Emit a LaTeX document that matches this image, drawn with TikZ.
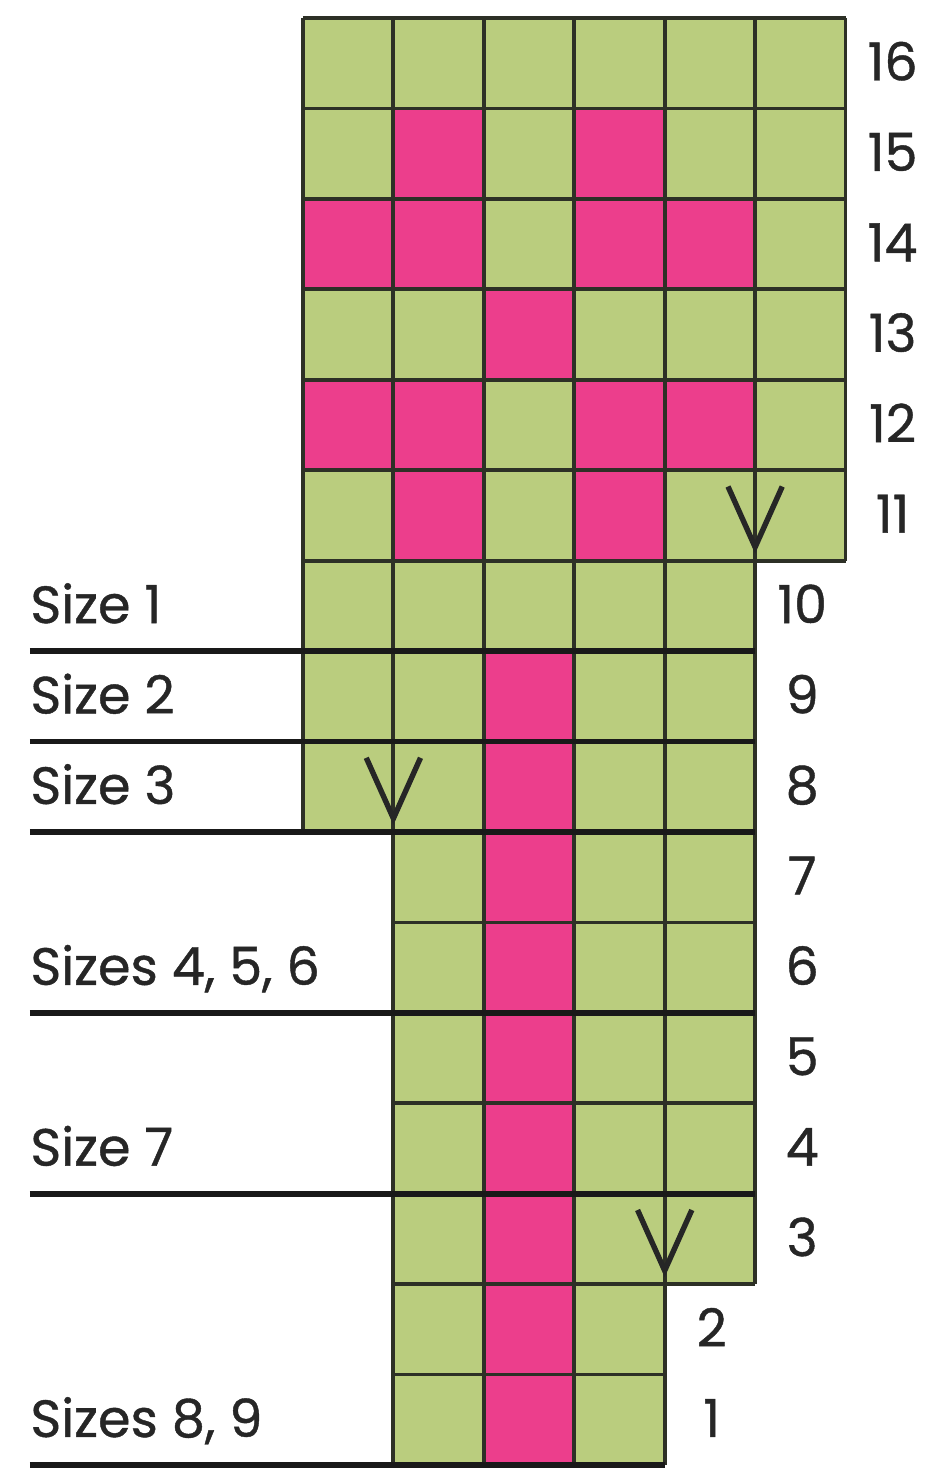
\documentclass[tikz,border=0pt]{standalone}
\usepackage{fontspec}
\setmainfont{Poppins}
\newfontfamily\chartfont{Poppins}[FakeBold=0.8]
\usetikzlibrary{positioning}
\definecolor{leaf}{RGB}{186,205,126}
\definecolor{rose}{RGB}{236,62,140}
\definecolor{gridline}{RGB}{45,48,38}
\begin{document}
\begin{tikzpicture}[x=1cm, y=1cm,
    cellgrid/.style={draw=gridline, line width=1.2pt},
    sizeline/.style={line width=1.8pt, black!90},
    slipmark/.style={line width=1.7pt, black!85, line join=miter},
    sizelabel/.style={anchor=base west, inner sep=0pt, text=black!85,
      font=\chartfont\fontsize{16.5}{20}\selectfont},
    rownum/.style={anchor=base, inner sep=0pt, text=black!85,
      font=\chartfont\fontsize{16.5}{20}\selectfont}]
  \useasboundingbox (-3.35,-0.055) rectangle (6.94,16.2);

  % --- green cells, block by block ---
  \fill[leaf] (0,10) rectangle (6,16);
  \fill[leaf] (0,7) rectangle (5,10);
  \fill[leaf] (1,2) rectangle (5,7);
  \fill[leaf] (1,0) rectangle (4,2);

  % --- pink motif (column/row) ---
  \foreach \c/\r in {1/15,3/15,0/14,1/14,3/14,4/14,2/13,0/12,1/12,3/12,4/12,1/11,3/11}
    \fill[rose] (\c,\r-1) rectangle ++(1,1);
  % stem
  \foreach \r in {1,...,9}
    \fill[rose] (2,\r-1) rectangle ++(1,1);

  % --- grid lines ---
  \draw[cellgrid] (0,10) grid (6,16);
  \draw[cellgrid] (0,7) grid (5,10);
  \draw[cellgrid] (1,2) grid (5,7);
  \draw[cellgrid] (1,0) grid (4,2);

  % --- slip stitch marks ---
  \foreach \x/\y in {5/10,1/7,4/2}
    \draw[slipmark] (\x-0.3,\y+0.82) -- (\x,\y+0.15) -- (\x+0.3,\y+0.82);

  % --- size rules on the left ---
  \foreach \y/\e in {9/5,8/5,7/5,5/5,3/5,0/4}
    \draw[sizeline] (-3.02,\y) -- (\e,\y);

  % --- size labels ---
  \node[sizelabel] (size1) at (-3.02,9.31) {Size 1};
  \node[sizelabel] (size2) at (-3.02,8.31) {Size 2};
  \node[sizelabel] (size3) at (-3.02,7.31) {Size 3};
  \node[sizelabel] (size456) at (-3.02,5.31) {Sizes 4, 5, 6};
  \node[sizelabel] (size7) at (-3.02,3.31) {Size 7};
  \node[sizelabel] (size89) at (-3.02,0.31) {Sizes 8, 9};

  % --- row numbers (row/right edge) ---
  \foreach \r/\e in {16/6,15/6,14/6,13/6,12/6,11/6,10/5,9/5,8/5,7/5,6/5,5/5,4/5,3/5,2/4,1/4}
    \node[rownum] (row\r) at (\e+0.52,\r-0.69) {\r};
\end{tikzpicture}
\end{document}
